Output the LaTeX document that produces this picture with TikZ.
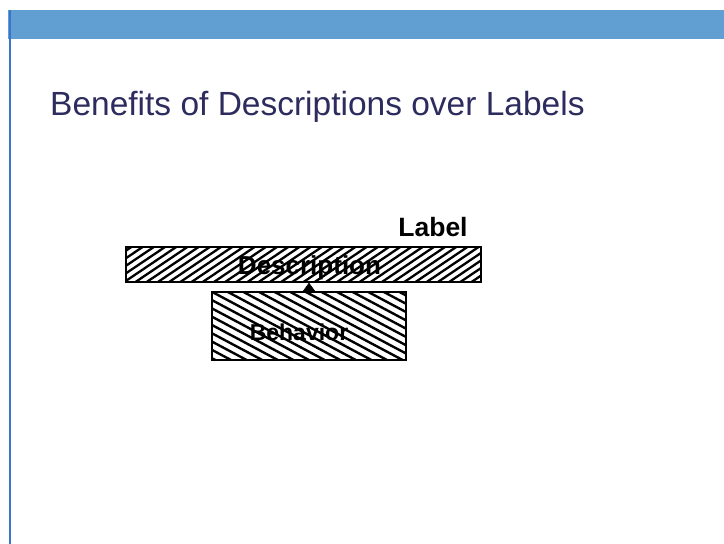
\documentclass[tikz,border=0pt]{standalone}
\usepackage{fontspec}
\setmainfont{Liberation Sans}
\definecolor{bandblau}{HTML}{619ED2}
\definecolor{randblau}{HTML}{3C74CB}
\definecolor{titelnavy}{HTML}{2C2C5E}
\usetikzlibrary{arrows.meta, positioning}

\begin{document}
\begin{tikzpicture}[x=1pt, y=-1pt]
        \tikzset{
          hatchbox/.style={draw=black, line width=1.4pt, inner sep=0pt},
          descbox/.style={hatchbox, minimum width=355pt, minimum height=35pt,
                 path picture={
                   \foreach \k in {-28,...,28}
                     \draw[line width=2.3pt]
                       ([xshift=\k*11.2pt]path picture bounding box.south) -- ++(-34:90);
                 }},
          behbox/.style={hatchbox, minimum width=194pt, minimum height=68pt,
                 path picture={
                   \foreach \k in {-15,...,22}
                     \draw[line width=2.4pt]
                       ([xshift=\k*15.6pt]path picture bounding box.south) -- ++(-152:160);
                 }},
          boxtext/.style={inner sep=0pt, anchor=base,
                 font=\fontsize{26}{28}\selectfont\bfseries}
        }
        \useasboundingbox (0,0) rectangle (724,544);
        \fill[white] (0,0) rectangle (724,544);
        % slide frame
        \fill[bandblau] (8,10) rectangle (724,39);
        \fill[randblau] (8.5,10) rectangle (11,544);
        \node[anchor=base west, text=titelnavy, inner sep=0pt,
              font=\fontsize{33.5}{36}\selectfont] (titel) at (50,115)
              {Benefits of Descriptions over Labels};
        % description above behavior
        \node[descbox] (desc) at (303.5, 264.5) {};
        \node[behbox] (beh) at (309, 326) {};
        \node[boxtext] (desctext) at (309.5, 274) {Description};
        \node[boxtext, font=\fontsize{23}{26}\selectfont\bfseries]
          (behtext) at (299, 340) {Behavior};
        \node[boxtext, font=\fontsize{26.5}{28}\selectfont\bfseries]
          (label) at (433, 236) {Label};
        \draw[-{Triangle[length=9pt, width=13pt]}, line width=0.6pt]
          (beh.north) -- (beh.north |- desc.south);
      \end{tikzpicture}
\end{document}
